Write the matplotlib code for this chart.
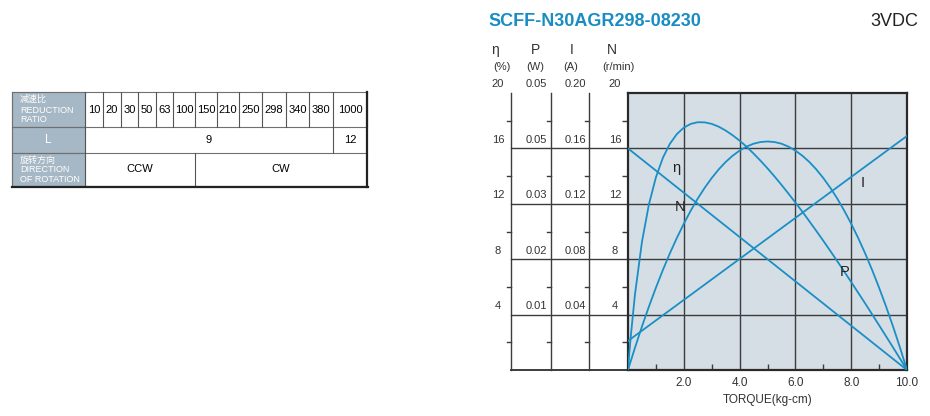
import matplotlib
matplotlib.use('Agg')
import matplotlib.pyplot as plt
from matplotlib.transforms import blended_transform_factory
from matplotlib.patches import Rectangle
from itertools import groupby

plt.rcParams['font.family'] = ['Liberation Sans', 'Noto Sans CJK SC', 'DejaVu Sans']

# table data
ratios = [10, 20, 30, 50, 63, 100, 150, 210, 250, 298, 340, 380, 1000]
lengths = [9, 9, 9, 9, 9, 9, 9, 9, 9, 9, 9, 9, 12]
directions = ['CCW'] * 6 + ['CW'] * 7

# curve data (torque in kg-cm, values in chart grid units)
torque = [0, 0.05, 0.1, 0.25, 0.5, 0.75, 1, 1.25, 1.5, 1.75, 2, 2.25, 2.5, 2.75,
          3, 3.25, 3.5, 3.75, 4, 4.25, 4.5, 4.75, 5, 5.25, 5.5, 5.75, 6, 6.25,
          6.5, 6.75, 7, 7.25, 7.5, 7.75, 8, 8.25, 8.5, 8.75, 9, 9.25, 9.5, 9.75, 10]
eff = [0, 1.27, 2.44, 5.46, 9.25, 11.96, 13.91, 15.32, 16.33, 17.03, 17.50, 17.77,
       17.89, 17.88, 17.77, 17.57, 17.29, 16.95, 16.56, 16.12, 15.63, 15.11, 14.56,
       13.98, 13.37, 12.74, 12.09, 11.43, 10.74, 10.04, 9.33, 8.60, 7.86, 7.11, 6.35,
       5.58, 4.81, 4.02, 3.23, 2.43, 1.63, 0.82, 0]
power = [0, 0.33, 0.65, 1.61, 3.14, 4.58, 5.94, 7.22, 8.42, 9.53, 10.56, 11.51,
         12.38, 13.16, 13.86, 14.48, 15.02, 15.47, 15.84, 16.13, 16.34, 16.46, 16.5,
         16.46, 16.34, 16.13, 15.84, 15.47, 15.02, 14.48, 13.86, 13.16, 12.38, 11.51,
         10.56, 9.53, 8.42, 7.22, 5.94, 4.58, 3.14, 1.61, 0]
line_torque = [0, 10]
speed = [16, 0]
current = [2.1, 16.9]

# left scales
scale_vals = [4, 8, 12, 16, 20]
eta_labels = ['4', '8', '12', '16', '20']
p_labels = ['0.01', '0.02', '0.03', '0.05', '0.05']
i_labels = ['0.04', '0.08', '0.12', '0.16', '0.20']
n_labels = ['4', '8', '12', '16', '20']

W, H = 930, 416
BLUE = '#1a8fc6'
GRID = '#3c3c3c'

fig = plt.figure(figsize=(W / 100, H / 100), dpi=100)

# ---- table (pixel coords overlay) ----
tb = fig.add_axes([0, 0, 1, 1])
tb.set_xlim(0, W)
tb.set_ylim(H, 0)
tb.axis('off')

bounds = [85, 103, 121, 138, 156, 173, 195, 217, 239, 262, 286, 309, 333, 367]
rows = [92, 127, 153, 186]
head_fill = '#a6b8c5'
for r in range(3):
    tb.add_patch(Rectangle((12, rows[r]), 85 - 12, rows[r + 1] - rows[r],
                           facecolor=head_fill, edgecolor='#8a8a8a', lw=0.8))
for y in rows:
    tb.plot([12, 367], [y, y], color='#707070', lw=0.8)
tb.plot([12, 12], [92, 186], color='#707070', lw=0.8)
for x in bounds:
    tb.plot([x, x], [92, 127], color='#555555', lw=0.8)
for i, r in enumerate(ratios):
    tb.text((bounds[i] + bounds[i + 1]) / 2, 110, str(r), ha='center', va='center', fontsize=8)


def merged_row(vals, y0, y1):
    i = 0
    for v, grp in groupby(vals):
        n = len(list(grp))
        x0, x1 = bounds[i], bounds[i + n]
        tb.plot([x0, x0], [y0, y1], color='#555555', lw=0.8)
        tb.text((x0 + x1) / 2, (y0 + y1) / 2, str(v), ha='center', va='center', fontsize=8)
        i += n


merged_row(lengths, 127, 153)
merged_row(directions, 153, 186)
tb.plot([367, 367], [92, 187], color='#222222', lw=1.6)
tb.plot([12, 368], [186.5, 186.5], color='#222222', lw=1.6)

for txt, y in [('减速比', 99), ('REDUCTION', 110.5), ('RATIO', 120)]:
    tb.text(20, y, txt, color='white', fontsize=6.5, va='center', ha='left')
for txt, y in [('旋转方向', 160), ('DIRECTION', 170), ('OF ROTATION', 179)]:
    tb.text(20, y, txt, color='white', fontsize=6.5, va='center', ha='left')
tb.text(48, 140, 'L', color='white', fontsize=8.5, ha='center', va='center')

fig.text(488 / W, 1 - 21 / H, 'SCFF-N30AGR298-08230', color='#1a8cc4', fontsize=13,
         fontweight='bold', ha='left', va='center')
fig.text(918 / W, 1 - 21 / H, '3VDC', color='#222222', fontsize=13, ha='right', va='center')

# ---- main chart ----
ax = fig.add_axes([628 / W, 1 - 370 / H, 279 / W, 277 / H])
ax.set_facecolor('#d5dee4')
ax.set_xlim(0, 10)
ax.set_ylim(0, 20)

ax.set_xticks([2, 4, 6, 8, 10])
ax.set_xticklabels(['2.0', '4.0', '6.0', '8.0', '10.0'])
ax.set_xticks([1, 3, 5, 7, 9], minor=True)
ax.set_yticks([4, 8, 12, 16])
ax.set_yticklabels([])
ax.set_yticks([2, 6, 10, 14, 18], minor=True)
ax.tick_params(axis='x', which='major', length=0, pad=5, labelsize=8.5, labelcolor='#333333')
ax.tick_params(axis='x', which='minor', direction='in', length=4, width=1, color=GRID)
ax.tick_params(axis='y', which='major', length=0)
ax.tick_params(axis='y', which='minor', direction='out', length=4, width=1, color=GRID)
ax.grid(True, which='major', color=GRID, lw=1.0)
for s in ax.spines.values():
    s.set_color('#2a2a2a')
    s.set_linewidth(1.6)
ax.set_xlabel('TORQUE(kg-cm)', fontsize=8.5, color='#333333', labelpad=4)

ax.plot(line_torque, speed, color=BLUE, lw=1.3, zorder=3)
ax.plot(line_torque, current, color=BLUE, lw=1.3, zorder=3)
ax.plot(torque, eff, color=BLUE, lw=1.3, zorder=3)
ax.plot(torque, power, color=BLUE, lw=1.3, zorder=3)

for txt, x, y in [('η', 1.72, 14.6), ('N', 1.86, 11.8), ('I', 8.4, 13.5), ('P', 7.78, 7.1)]:
    ax.text(x, y, txt, fontsize=10.5, color='#222222', ha='center', va='center', zorder=4)

# ---- left scale columns ----
tr = blended_transform_factory(ax.transAxes, ax.transData)
cols = [-0.4194, -0.276, -0.1398]
for c in cols:
    ax.plot([c, c], [0, 20], color=GRID, lw=1.0, transform=tr, clip_on=False)
for v in [0, 4, 8, 12, 16]:
    ax.plot([cols[0], 0], [v, v], color=GRID, lw=1.0 if v else 1.4, transform=tr, clip_on=False)
for c in cols:
    for v in [2, 6, 10, 14, 18]:
        ax.plot([c - 0.015, c], [v, v], color=GRID, lw=1.0, transform=tr, clip_on=False)

label_x = [-0.466, -0.330, -0.190, -0.047]
for x, labels in zip(label_x, [eta_labels, p_labels, i_labels, n_labels]):
    for v, lab in zip(scale_vals, labels):
        ax.text(x, v + 0.62, lab, transform=tr, fontsize=8, color='#333333',
                ha='center', va='center')

for txt, x in zip(['η', 'P', 'I', 'N'], [-0.477, -0.330, -0.2007, -0.0573]):
    ax.text(x, 23.1, txt, transform=tr, fontsize=10, color='#333333', ha='center', va='center')
for txt, x in zip(['(%)', '(W)', '(A)', '(r/min)'], [-0.452, -0.333, -0.204, -0.036]):
    ax.text(x, 21.85, txt, transform=tr, fontsize=8, color='#333333', ha='center', va='center')

fig.savefig('out.png', dpi=100)
